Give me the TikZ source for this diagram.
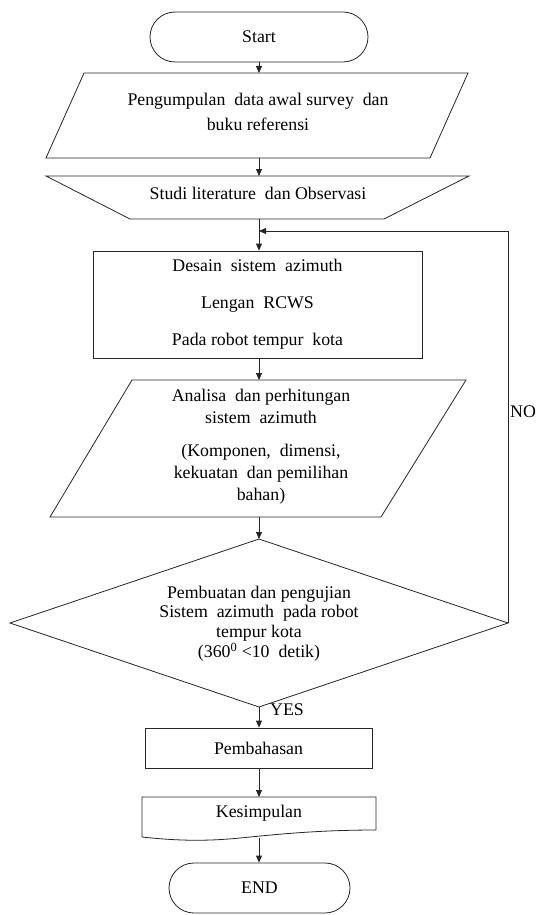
\documentclass[tikz,border=0pt]{standalone}
\usepackage{fontspec}
\setmainfont{Liberation Serif}
\usetikzlibrary{arrows.meta}
\begin{document}
\begin{tikzpicture}[x=1pt,y=-1pt,
  ln/.style={draw=black!85, line width=0.8pt},
  arr/.style={ln, -{Triangle[length=7pt,width=6pt]}},
  txt/.style={font=\fontsize{17.8}{20}\selectfont, align=center, inner sep=0pt},
  box/.style={ln, rectangle, inner sep=0pt},
]
\useasboundingbox (0,0) rectangle (539,915);
\fill[white] (0,0) rectangle (539,915);

% Start
\node[box, txt, rounded corners=25pt, minimum width=218pt, minimum height=50pt] (start) at (259,37) {Start};

% Data collection (parallelogram)
\draw[ln] (84,73) -- (468,73) -- (430,158) -- (46,158) -- cycle;
\coordinate (p1t) at (259,73);
\coordinate (p1b) at (259,158);
\node[txt, font=\fontsize{17.8}{25}\selectfont] (p1) at (258,112) {Pengumpulan\ \ data awal survey\ \ dan\\buku referensi};

% Studi literature (manual operation)
\draw[ln] (46,176) -- (469,176) -- (384,219) -- (130,219) -- cycle;
\coordinate (tzt) at (259,176);
\coordinate (tzb) at (259,219);
\node[txt] (tz) at (258,193) {Studi literature\ \ dan Observasi};

% Desain
\node[box, txt, font=\fontsize{17.8}{37}\selectfont, minimum width=329pt, minimum height=107pt] (des) at (257.5,304.5) {Desain\ \ sistem\ \ azimuth\\Lengan\ \ RCWS\\Pada robot tempur\ \ kota};

% Analisa (parallelogram)
\draw[ln] (132,380) -- (466,380) -- (381,517) -- (50,517) -- cycle;
\coordinate (p2t) at (259,380);
\coordinate (p2b) at (259,517);
\node[txt, font=\fontsize{17.8}{22}\selectfont] (p2) at (261,446.5) {Analisa\ \ dan perhitungan\\sistem\ \ azimuth\\[11pt](Komponen,\ \ dimensi,\\kekuatan\ \ dan pemilihan\\bahan)};

% Decision
\draw[ln] (259,539) -- (508,623) -- (259,707) -- (10,623) -- cycle;
\coordinate (dt) at (259,539);
\coordinate (db) at (259,707);
\coordinate (dr) at (508,623);
\node[txt, font=\fontsize{17.8}{19.7}\selectfont] (dec) at (259,623.5) {Pembuatan dan pengujian\\Sistem\ \ azimuth\ \ pada robot\\tempur kota\\(360\textsuperscript{0} <10\ \ detik)};

\node[txt] (no) at (523,412) {NO};
\node[txt] (yes) at (287,710) {YES};

% Pembahasan
\node[box, txt, minimum width=227pt, minimum height=40pt] (pem) at (258.5,748) {Pembahasan};

% Kesimpulan (document)
\draw[ln] (142,837) -- (142,797) -- (376,797) -- (376,830) .. controls (320,830) and (280,834) .. (240,838) .. controls (200,842) and (170,840) .. (142,837);
\coordinate (ket) at (259,797);
\coordinate (keb) at (259,838);
\node[txt] (kes) at (259,813) {Kesimpulan};

% END
\node[box, txt, rounded corners=25pt, minimum width=181pt, minimum height=50pt] (end) at (259.5,888) {END};

% Connectors
\coordinate (loop) at (259,231);
\draw[arr] (start.south) -- (p1t);
\draw[arr] (p1b) -- (tzt);
\draw[arr] (tzb) -- (tzb |- des.north);
\draw[arr] (dr) -- (dr |- loop) -- (loop);
\draw[arr] (des.south -| p2t) -- (p2t);
\draw[arr] (p2b) -- (dt);
\draw[arr] (db) -- (db |- pem.north);
\draw[arr] (pem.south -| ket) -- (ket);
\draw[arr] (keb) -- (keb |- end.north);
\end{tikzpicture}
\end{document}
